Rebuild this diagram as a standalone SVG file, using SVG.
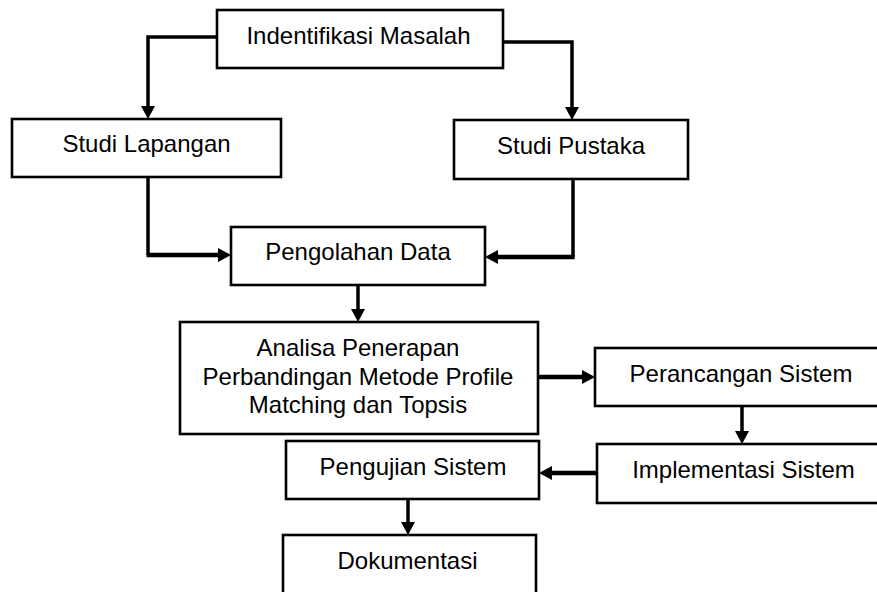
<svg xmlns="http://www.w3.org/2000/svg" width="877" height="592" viewBox="0 0 877 592">
<style>
.box{fill:#fff;stroke:#000;stroke-width:2.6}
.t{font-family:"Liberation Sans",Arial,sans-serif;font-size:24px;fill:#000;text-anchor:middle}
.c{fill:none;stroke:#000;stroke-width:3.5;stroke-linejoin:miter}
.ch{fill:none;stroke:#000;stroke-width:4.6}
</style>
<defs>
<marker id="ah" markerUnits="userSpaceOnUse" markerWidth="16" markerHeight="16" refX="3" refY="7" orient="auto">
<path d="M0,0 L13,7 L0,14 z" fill="#000"/>
</marker>
</defs>
<rect width="877" height="592" fill="#fff"/>
<g id="connectors">
<path class="c" d="M217,37 H148 V109" marker-end="url(#ah)"/>
<path class="c" d="M503,42 H572 V110" marker-end="url(#ah)"/>
<path class="c" d="M148,177 V255"/>
<path class="ch" d="M146.5,255 H221" marker-end="url(#ah)"/>
<path class="c" d="M573,179 V257"/>
<path class="ch" d="M574.5,257 H495" marker-end="url(#ah)"/>
<path class="c" d="M358,285 V312" marker-end="url(#ah)"/>
<path class="ch" d="M538,377 H585" marker-end="url(#ah)"/>
<path class="c" d="M742,406 V434" marker-end="url(#ah)"/>
<path class="ch" d="M597,473 H549" marker-end="url(#ah)"/>
<path class="c" d="M408,499 V525" marker-end="url(#ah)"/>
</g>
<g id="n1"><rect class="box" x="217" y="10" width="286" height="58"/><text class="t" x="358.5" y="44">Indentifikasi Masalah</text></g>
<g id="n2"><rect class="box" x="12" y="119" width="269" height="58"/><text class="t" x="146.5" y="152">Studi Lapangan</text></g>
<g id="n3"><rect class="box" x="454" y="120" width="234" height="59"/><text class="t" x="571" y="154">Studi Pustaka</text></g>
<g id="n4"><rect class="box" x="231" y="227" width="254" height="58"/><text class="t" x="358" y="260">Pengolahan Data</text></g>
<g id="n5"><rect class="box" x="180" y="322" width="358" height="112"/><text class="t" x="358" y="356">Analisa Penerapan</text><text class="t" x="358" y="385">Perbandingan Metode Profile</text><text class="t" x="358" y="413">Matching dan Topsis</text></g>
<g id="n6"><rect class="box" x="595" y="348" width="300" height="58"/><text class="t" x="741" y="382">Perancangan Sistem</text></g>
<g id="n7"><rect class="box" x="597" y="444" width="300" height="59"/><text class="t" x="743.5" y="478">Implementasi Sistem</text></g>
<g id="n8"><rect class="box" x="286" y="441" width="253" height="58"/><text class="t" x="413" y="475">Pengujian Sistem</text></g>
<g id="n9"><rect class="box" x="283" y="535" width="253" height="80"/><text class="t" x="407.5" y="569">Dokumentasi</text></g>
</svg>
